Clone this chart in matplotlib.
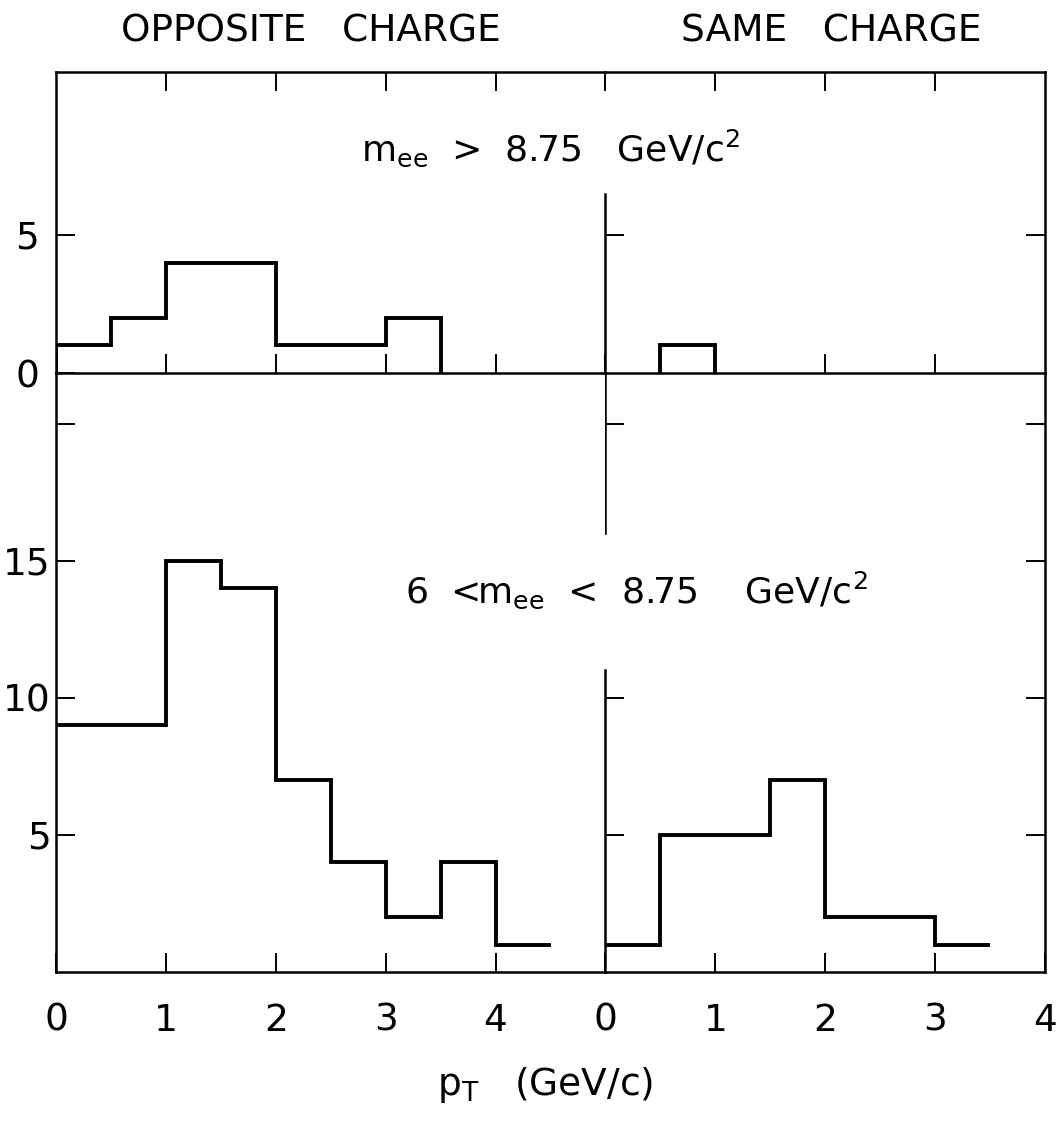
import matplotlib
matplotlib.use('Agg')
import matplotlib.pyplot as plt

plt.rcParams['font.family'] = ['DejaVu Sans']
plt.rcParams['mathtext.default'] = 'regular'

# p_T bin edges (GeV/c) and counts
top_opp_edges = [0, 0.5, 1.0, 2.0, 3.0, 3.5]
top_opp_counts = [1, 2, 4, 1, 2]
top_same_edges = [0.5, 1.0]
top_same_counts = [1]
bot_opp_edges = [0, 1.0, 1.5, 2.0, 2.5, 3.0, 3.5, 4.0, 4.5]
bot_opp_counts = [9, 15, 14, 7, 4, 2, 4, 1]
bot_same_edges = [0, 0.5, 1.5, 2.0, 3.0, 3.5]
bot_same_counts = [1, 5, 7, 2, 1]

left_xticks = [0, 1, 2, 3, 4]
right_xticks = [0, 1, 2, 3, 4]
tick_labels_x = ['0', '1', '2', '3', '4']
top_yticks = [0, 5]
top_ylabels = ['0', '5']
bot_yticks = [5, 10, 15, 20]
bot_ylabels = ['5', '10', '15', '']

LW_BOX = 1.8
LW_HIST = 2.8
TICK = dict(direction='in', length=14, width=1.4)
NARROW = ['Liberation Sans Narrow', 'DejaVu Sans']

fig = plt.figure(figsize=(10.56, 11.24), dpi=100)

# panel geometry (figure fractions)
x0, x1 = 56 / 1056, 1045 / 1056
w = x1 - x0
wl, wr = w * 5 / 9, w * 4 / 9
yt0, yt1 = 1 - 373 / 1124, 1 - 72 / 1124
yb0, yb1 = 1 - 972 / 1124, 1 - 373 / 1124

ax_tl = fig.add_axes([x0, yt0, wl, yt1 - yt0])
ax_tr = fig.add_axes([x0 + wl, yt0, wr, yt1 - yt0])
ax_bl = fig.add_axes([x0, yb0, wl, yb1 - yb0])
ax_br = fig.add_axes([x0 + wl, yb0, wr, yb1 - yb0])

TOP_MAX = 10.9
BOT_MAX = 21.85

for ax in (ax_tl, ax_tr, ax_bl, ax_br):
    ax.set_facecolor('none')
    for s in ax.spines.values():
        s.set_linewidth(LW_BOX)
    ax.tick_params(axis='both', which='major', **TICK)
    ax.tick_params(labelsize=27)

# --- top left: opposite charge, m_ee > 8.75
ax_tl.set_xlim(0, 5)
ax_tl.set_ylim(0, TOP_MAX)
ax_tl.stairs(top_opp_counts, top_opp_edges, baseline=0, color='black', lw=LW_HIST)
ax_tl.spines['right'].set_visible(False)
ax_tl.set_xticks(left_xticks[1:])
ax_tl.tick_params(axis='x', top=True, bottom=True, labelbottom=False)
ax_tl.set_yticks(top_yticks, top_ylabels)
ax_tl.tick_params(axis='y', pad=12)

# --- top right: same charge, m_ee > 8.75
ax_tr.set_xlim(0, 4)
ax_tr.set_ylim(0, TOP_MAX)
ax_tr.stairs(top_same_counts, top_same_edges, baseline=0, color='black', lw=LW_HIST)
ax_tr.spines['left'].set_bounds(0, 6.5)
ax_tr.set_xticks(right_xticks[:4])
ax_tr.tick_params(axis='x', top=True, bottom=True, labelbottom=False)
ax_tr.set_yticks([5])
ax_tr.tick_params(axis='y', left=True, right=True, labelleft=False)

# --- bottom left: opposite charge, 6 < m_ee < 8.75
ax_bl.set_xlim(0, 5)
ax_bl.set_ylim(0, BOT_MAX)
ax_bl.stairs(bot_opp_counts, bot_opp_edges, baseline=None, color='black', lw=LW_HIST)
ax_bl.spines['right'].set_visible(False)
ax_bl.spines['top'].set_visible(False)
ax_bl.set_xticks(left_xticks, tick_labels_x)
ax_bl.tick_params(axis='x', pad=22)
ax_bl.set_yticks(bot_yticks, bot_ylabels)
ax_bl.tick_params(axis='y', pad=4)
for lab in ax_bl.get_yticklabels():
    lab.set_family(NARROW)

# --- bottom right: same charge, 6 < m_ee < 8.75
ax_br.set_xlim(0, 4)
ax_br.set_ylim(0, BOT_MAX)
ax_br.stairs(bot_same_counts, bot_same_edges, baseline=None, color='black', lw=LW_HIST)
ax_br.spines['top'].set_visible(False)
ax_br.spines['left'].set_bounds(0, 11)
ax_br.axvline(0, ymin=16 / BOT_MAX, ymax=1, color='black', lw=LW_BOX)
ax_br.set_xticks(right_xticks, tick_labels_x)
ax_br.tick_params(axis='x', pad=22)
ax_br.set_yticks(bot_yticks)
ax_br.tick_params(axis='y', left=True, right=True, labelleft=False)
ax_br.yaxis.get_major_ticks()[2].tick1line.set_visible(False)

# headings and labels
fig.text(311 / 1056, 1 - 32 / 1124, 'OPPOSITE   CHARGE', ha='center', va='center',
         fontsize=27, family=NARROW)
fig.text(831 / 1056, 1 - 32 / 1124, 'SAME   CHARGE', ha='center', va='center',
         fontsize=27, family=NARROW)
fig.text(550 / 1056, 1 - 148 / 1124, 'm$_{ee}$  >  8.75   GeV/c$^{2}$', ha='center', va='center',
         fontsize=26)
fig.text(636 / 1056, 1 - 590 / 1124, '6  <m$_{ee}$  <  8.75    GeV/c$^{2}$', ha='center', va='center',
         fontsize=26)
fig.text(545 / 1056, 1 - 1085 / 1124, 'p$_{T}$   (GeV/c)', ha='center', va='center', fontsize=27)

fig.savefig('out.png', dpi=100)
